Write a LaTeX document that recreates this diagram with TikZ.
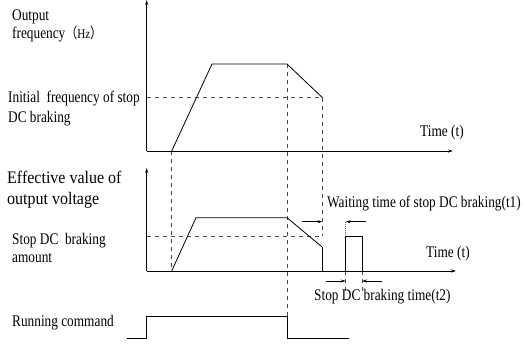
\documentclass[tikz,border=0pt]{standalone}
\usepackage{fontspec}
\usepackage{graphicx}
\setmainfont{Liberation Serif}
\newfontfamily\cjk{Noto Sans CJK SC}
\newcommand\talltext[1]{\scalebox{1}[1.22]{#1}}
\usetikzlibrary{arrows.meta}
\begin{document}
\begin{tikzpicture}[x=1pt,y=-1pt,
  lbl/.style={anchor=base west,inner sep=0pt,font=\fontsize{13.3}{15}\selectfont},
  biglbl/.style={anchor=base west,inner sep=0pt,font=\fontsize{16}{18}\selectfont},
  axis/.style={line width=0.9pt,-{Stealth[length=5pt,width=3pt]}},
  curve/.style={line width=0.8pt,line join=miter},
  guide/.style={line width=0.8pt,black!70,dash pattern=on 4pt off 4pt},
  dim/.style={line width=0.7pt,-{Stealth[length=5pt,width=3pt]}}]
\useasboundingbox (0,0) rectangle (526,343);
% coordinates
\coordinate (o1) at (146.7,151);
\coordinate (y1) at (146.7,0);
\coordinate (x1) at (453,151);
\coordinate (o2) at (146.7,271);
\coordinate (y2) at (146.7,168);
\coordinate (x2) at (456,271);
\coordinate (a1) at (171.7,151);
\coordinate (a2) at (212,64);
\coordinate (a3) at (287,64);
\coordinate (a4) at (322.5,97.7);
\coordinate (f0) at (146.7,97.7);
\coordinate (b1) at (171.7,271);
\coordinate (b2) at (196,217.7);
\coordinate (b3) at (287,217.7);
\coordinate (b4) at (322.5,247.3);
\coordinate (b5) at (322.5,271);
\coordinate (b6) at (322.5,236.3);
\coordinate (v0) at (146.7,236.3);
\coordinate (p1) at (345.7,271);
\coordinate (p2) at (345.7,236.3);
\coordinate (p3) at (362,236.3);
\coordinate (p4) at (362,271);
\coordinate (r0) at (126.7,338.3);
\coordinate (r1) at (146.7,338.3);
\coordinate (r2) at (146.7,316.7);
\coordinate (r3) at (287,316.7);
\coordinate (r4) at (287,338.3);
\coordinate (r5) at (349,338.3);
\coordinate (w1s) at (302,221.7);
\coordinate (w1e) at (322.5,221.7);
\coordinate (w2s) at (366,221.7);
\coordinate (w2e) at (345.7,221.7);
\coordinate (t1s) at (326,281);
\coordinate (t1e) at (345.7,281);
\coordinate (t2s) at (382,281);
\coordinate (t2e) at (362,281);
\coordinate (d1) at (345.7,292);
\coordinate (d2) at (362,292);
% guides
\draw[guide] (f0) -- (a4);
\draw[guide] (a4) -- (b6);
\draw[guide] (a3) -- (r3);
\draw[guide] (a1) -- (b1);
\draw[guide] (v0) -- (b6);
\draw[guide] (p1) -- (d1);
\draw[guide] (p4) -- (d2);
\draw[line width=0.6pt,black!60,dash pattern=on 1pt off 1pt] (w2e) -- (p2);
% axes
\draw[axis] (o1) -- (y1);
\draw[axis] (o1) -- (x1);
\draw[axis] (o2) -- (y2);
\draw[axis] (o2) -- (x2);
% curves
\draw[curve] (a1) -- (a2) -- (a3) -- (a4);
\draw[curve] (b1) -- (b2) -- (b3) -- (b4) -- (b5);
\draw[curve] (p1) -- (p2) -- (p3) -- (p4);
\draw[curve] (r0) -- (r1) -- (r2) -- (r3) -- (r4) -- (r5);
% dimension arrows
\draw[dim] (w1s) -- (w1e);
\draw[dim] (w2s) -- (w2e);
\draw[dim] (t1s) -- (t1e);
\draw[dim] (t2s) -- (t2e);
% labels
\node[lbl] (out1) at (12,20.5) {\talltext{Output}};
\node[lbl] (out2) at (12,38.5) {\talltext{frequency{\cjk\fontsize{12}{12}\selectfont （}{\fontsize{11}{12}\selectfont Hz}{\cjk\fontsize{12}{12}\selectfont ）}}};
\node[lbl] (ini1) at (8,102) {\talltext{Initial\ \ frequency of stop}};
\node[lbl] (ini2) at (8,122) {\talltext{DC braking}};
\node[biglbl] (eff1) at (7,183) {\scalebox{1}[1.1]{Effective value of}};
\node[biglbl] (eff2) at (7,204.5) {\scalebox{1}[1.1]{output voltage}};
\node[lbl] (amt1) at (12,244.5) {\talltext{Stop DC\ \ braking}};
\node[lbl] (amt2) at (12,262) {\talltext{amount}};
\node[lbl] (run) at (12,326) {\talltext{Running command}};
\node[lbl] (time1) at (420,136) {\talltext{Time (t)}};
\node[lbl] (time2) at (426,257) {\talltext{Time (t)}};
\node[lbl] (wait) at (327,207.5) {\talltext{Waiting time of stop DC braking(t1)}};
\node[lbl] (brk) at (314,300.5) {\talltext{Stop DC braking time(t2)}};
\end{tikzpicture}
\end{document}
